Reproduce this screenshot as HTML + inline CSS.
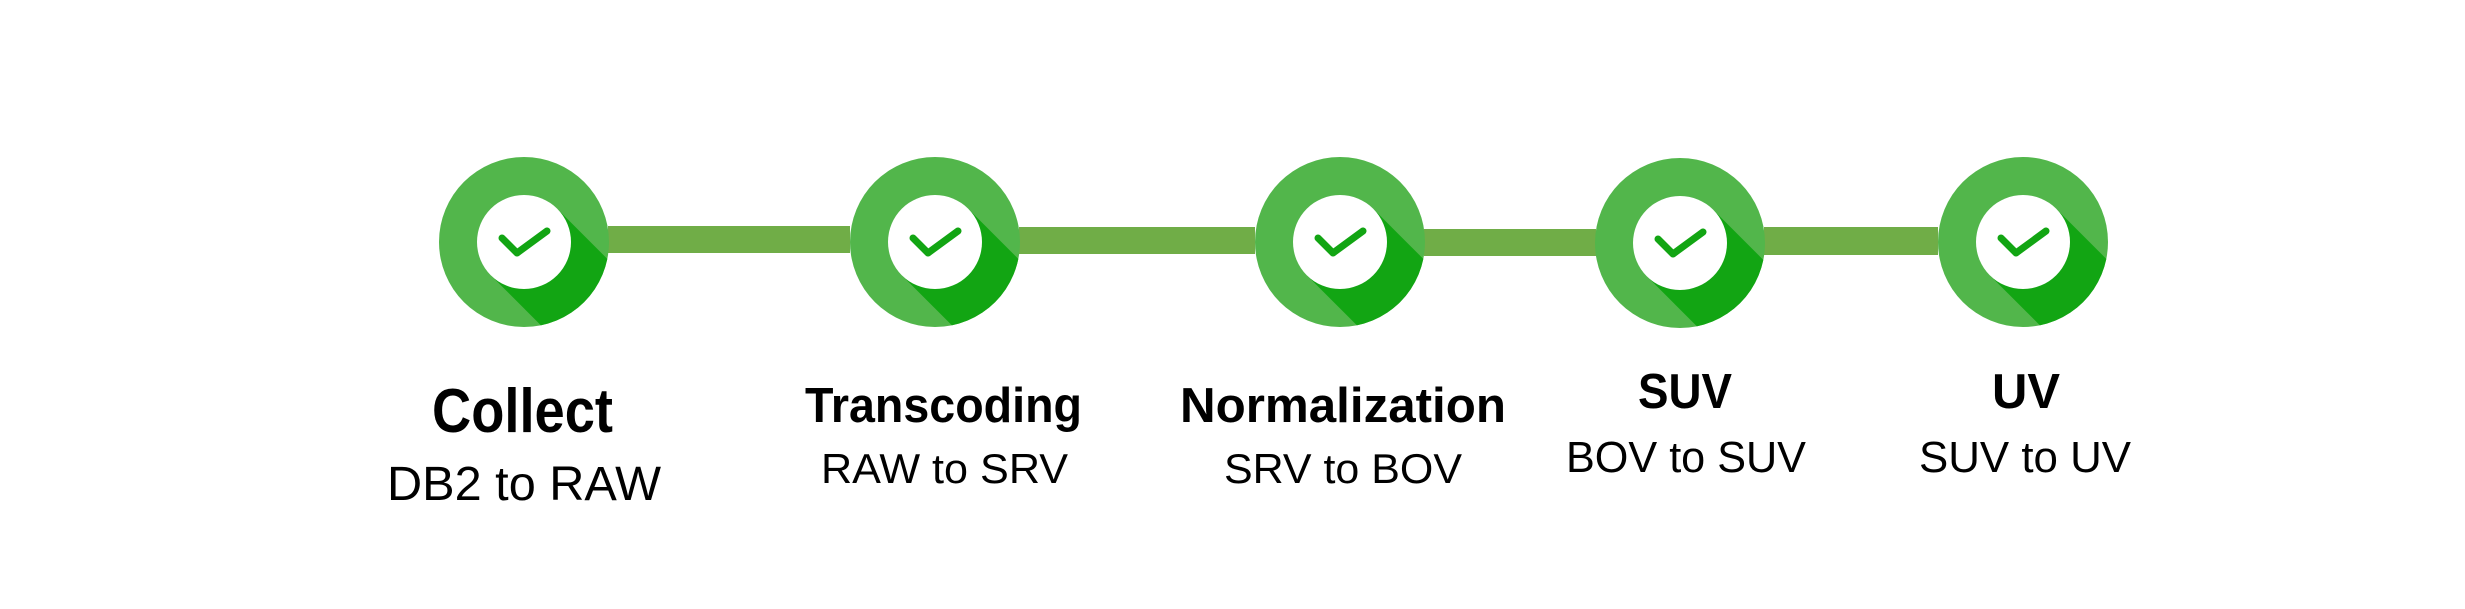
<!DOCTYPE html>
<html><head><meta charset="utf-8"><style>
html,body{margin:0;padding:0;background:#fff;}
svg{display:block;}
text{font-family:"Liberation Sans",sans-serif;fill:#000;}
</style></head><body>
<svg width="2465" height="609" viewBox="0 0 2465 609" xmlns="http://www.w3.org/2000/svg">
<defs>
<g id="node">
  <clipPath id="c"><circle cx="0" cy="0" r="85"/></clipPath>
  <circle cx="0" cy="0" r="85" fill="#52B64B"/>
  <polygon points="33.2,-33.2 233.2,166.8 166.8,233.2 -33.2,33.2" fill="#12A513" clip-path="url(#c)"/>
  <circle cx="0" cy="0" r="47" fill="#fff"/>
  <polyline points="-22,-4 -7,11 23,-11" fill="none" stroke="#12A513" stroke-width="7" stroke-linecap="round" stroke-linejoin="round"/>
</g>
</defs>
<rect x="608" y="226" width="242" height="27" fill="#70AD47"/>
<rect x="1019" y="227" width="236" height="27" fill="#70AD47"/>
<rect x="1424" y="229" width="172" height="27" fill="#70AD47"/>
<rect x="1764" y="227" width="174" height="28" fill="#70AD47"/>
<use href="#node" x="524" y="242"/>
<use href="#node" x="935" y="242"/>
<use href="#node" x="1340" y="242"/>
<use href="#node" x="1680" y="243"/>
<use href="#node" x="2023" y="242"/>

<text x="432" y="432" font-size="62" font-weight="bold" textLength="181" lengthAdjust="spacingAndGlyphs">Collect</text>
<text x="387" y="500" font-size="48" textLength="274" lengthAdjust="spacingAndGlyphs">DB2 to RAW</text>

<text x="805" y="422" font-size="49" font-weight="bold" textLength="277" lengthAdjust="spacingAndGlyphs">Transcoding</text>
<text x="821" y="483" font-size="42" textLength="247" lengthAdjust="spacingAndGlyphs">RAW to SRV</text>

<text x="1180" y="422" font-size="49" font-weight="bold" textLength="326" lengthAdjust="spacingAndGlyphs">Normalization</text>
<text x="1224" y="483" font-size="42" textLength="238" lengthAdjust="spacingAndGlyphs">SRV to BOV</text>

<text x="1638" y="408" font-size="49" font-weight="bold" textLength="94" lengthAdjust="spacingAndGlyphs">SUV</text>
<text x="1566" y="472" font-size="44" textLength="240" lengthAdjust="spacingAndGlyphs">BOV to SUV</text>

<text x="1992" y="408" font-size="49" font-weight="bold" textLength="68" lengthAdjust="spacingAndGlyphs">UV</text>
<text x="1919" y="472" font-size="44" textLength="212" lengthAdjust="spacingAndGlyphs">SUV to UV</text>
</svg>
</body></html>
